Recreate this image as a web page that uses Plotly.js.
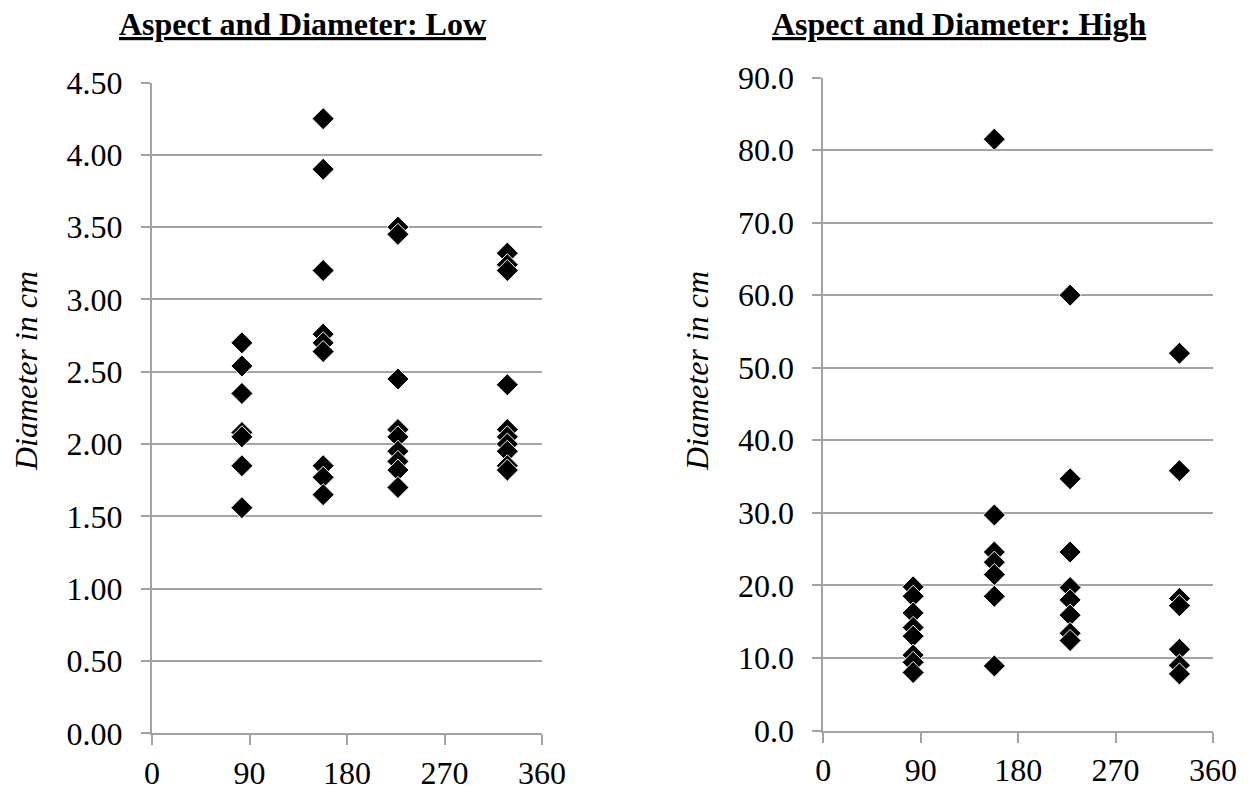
<!DOCTYPE html>
<html>
<head>
<meta charset="utf-8">
<script src="https://cdn.plot.ly/plotly-3.0.1.min.js"></script>
<style>html,body{margin:0;padding:0;background:#fff;}#chart{width:1251px;height:792px;}</style>
</head>
<body>
<div id="chart"></div>
<script>
// Aspect (degrees) and diameter (cm) — "Low" panel
var lowAspect = [83,83,83,83,83,83,83,
                 158,158,158,158,158,158,158,158,158,
                 227,227,227,227,227,227,227,227,227,
                 328,328,328,328,328,328,328,328,328,328];
var lowDiameter = [2.70,2.54,2.35,2.08,2.05,1.85,1.56,
                   4.25,3.90,3.20,2.76,2.70,2.64,1.85,1.77,1.65,
                   3.50,3.45,2.45,2.10,2.05,1.95,1.88,1.82,1.70,
                   3.32,3.24,3.20,2.41,2.10,2.05,2.00,1.95,1.85,1.82];
// "High" panel
var highAspect = [83,83,83,83,83,83,83,83,
                  158,158,158,158,158,158,158,
                  228,228,228,228,228,228,228,228,
                  329,329,329,329,329,329,329];
var highDiameter = [19.8,18.5,16.2,14.2,13.0,10.4,9.4,8.0,
                    81.5,29.7,24.6,23.2,21.5,18.5,8.9,
                    60.0,34.7,24.6,19.7,18.0,15.9,13.4,12.4,
                    52.0,35.8,18.2,17.2,11.2,9.0,7.8];
var xTicks = [0,90,180,270,360];
var titleLow = "Aspect and Diameter: Low";
var titleHigh = "Aspect and Diameter: High";
var yTitle = "Diameter in cm";

var serif = "Liberation Serif, Times New Roman, serif";
var grid = "#a3a3a3";
var marker = {symbol:"diamond", size:17, color:"#000", line:{color:"#fff", width:1}};

var traces = [
  {x: lowAspect, y: lowDiameter, type:"scatter", mode:"markers", marker: marker, xaxis:"x", yaxis:"y", hoverinfo:"x+y"},
  {x: highAspect, y: highDiameter, type:"scatter", mode:"markers", marker: marker, xaxis:"x2", yaxis:"y2", hoverinfo:"x+y"}
];

function xa(dom){
  return {domain: dom, range:[0,360], tickvals: xTicks, ticktext: xTicks.map(String),
    showgrid:false, zeroline:false, showline:true, linecolor:grid, linewidth:2,
    ticks:"outside", ticklen:10, tickwidth:2, tickcolor:grid,
    tickfont:{family:serif, size:32, color:"#000"}, ticklabelstandoff:0, fixedrange:true};
}
function ya(dom, range, dtick, fmt, anchor){
  return {domain: dom, range: range, dtick: dtick, tick0:0, tickformat: fmt, anchor: anchor,
    showgrid:true, gridcolor:grid, gridwidth:2, zeroline:false,
    showline:true, linecolor:grid, linewidth:2,
    ticks:"outside", ticklen:9, tickwidth:2, tickcolor:grid,
    tickfont:{family:serif, size:32, color:"#000"}, ticklabelstandoff:12,
    fixedrange:true};
}

var titleFont = {family:serif, size:32, color:"#000", weight:"bold", lineposition:"under"};
var yTitleFont = {family:serif, size:32, color:"#000", style:"italic"};

var layout = {
  width:1251, height:792, showlegend:false,
  paper_bgcolor:"#fff", plot_bgcolor:"#fff",
  margin:{l:0, r:0, t:0, b:0},
  xaxis: Object.assign(xa([152/1251, 542/1251]), {anchor:"y"}),
  yaxis: ya([1-733.3/792, 1-82.5/792], [0,4.5], 0.5, ".2f", "x"),
  xaxis2: Object.assign(xa([823.3/1251, 1213/1251]), {anchor:"y2"}),
  yaxis2: ya([1-730.5/792, 1-77.5/792], [0,90], 10, ".1f", "x2"),
  annotations: [
    {text: titleLow, xref:"paper", yref:"paper", x:302/1251, y:1-24/792, xanchor:"center", yanchor:"middle", showarrow:false, font:titleFont},
    {text: titleHigh, xref:"paper", yref:"paper", x:959/1251, y:1-24/792, xanchor:"center", yanchor:"middle", showarrow:false, font:titleFont},
    {text: yTitle, xref:"paper", yref:"paper", x:26/1251, y:1-371/792, xanchor:"center", yanchor:"middle", textangle:-90, showarrow:false, font:yTitleFont},
    {text: yTitle, xref:"paper", yref:"paper", x:697/1251, y:1-371/792, xanchor:"center", yanchor:"middle", textangle:-90, showarrow:false, font:yTitleFont}
  ]
};

Plotly.newPlot("chart", traces, layout, {displayModeBar:false, staticPlot:true});
</script>
</body>
</html>
